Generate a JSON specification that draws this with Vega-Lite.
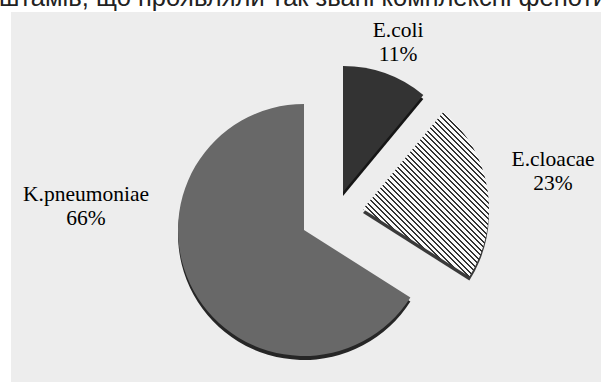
{
  "$schema": "https://vega.github.io/schema/vega-lite/v6.json",
  "autosize": "none",
  "width": 590,
  "height": 370,
  "padding": {"left": 11, "top": 12, "right": 0, "bottom": 0},
  "background": "#ffffff",
  "config": {"view": {"fill": "#ededed", "stroke": null}, "text": {"font": "Liberation Serif"}},
  "title": {
    "text": "штамів, що проявляли так звані комплексні фенотипи",
    "anchor": "start",
    "frame": "group",
    "orient": "top",
    "offset": -19,
    "baseline": "alphabetic",
    "dx": -12,
    "font": "Liberation Sans",
    "fontSize": 25.5,
    "fontWeight": "normal",
    "color": "#222222"
  },
  "data": {
    "values": [
      {"name": "E.coli", "share": 11},
      {"name": "E.cloacae", "share": 23},
      {"name": "K.pneumoniae", "share": 66}
    ]
  },
  "transform": [
    {"stack": "share", "groupby": [], "sort": [{"field": "share", "order": "ascending"}], "as": ["s0", "s1"]}
  ],
  "layer": [
    {
      "data": {"values": [{}]},
      "mark": {"type": "rect", "color": "#ededed"},
      "encoding": {}
    },
    {
      "transform": [{"filter": "datum.name === 'K.pneumoniae'"}],
      "mark": {"type": "arc", "outerRadius": 126, "xOffset": -2, "yOffset": 37, "fill": "#262626"},
      "encoding": {
        "theta": {"field": "s0", "type": "quantitative", "scale": {"domain": [0, 100]}},
        "theta2": {"field": "s1"}
      }
    },
    {
      "transform": [{"filter": "datum.name === 'K.pneumoniae'"}],
      "mark": {"type": "arc", "outerRadius": 126, "xOffset": -2, "yOffset": 33, "fill": "#686868"},
      "encoding": {
        "theta": {"field": "s0", "type": "quantitative", "scale": {"domain": [0, 100]}},
        "theta2": {"field": "s1"}
      }
    },
    {
      "transform": [{"filter": "datum.name === 'E.coli'"}],
      "mark": {"type": "arc", "outerRadius": 126, "xOffset": 37, "yOffset": -1, "fill": "#161616"},
      "encoding": {
        "theta": {"field": "s0", "type": "quantitative", "scale": {"domain": [0, 100]}},
        "theta2": {"field": "s1"}
      }
    },
    {
      "transform": [{"filter": "datum.name === 'E.coli'"}],
      "mark": {"type": "arc", "outerRadius": 126, "xOffset": 37, "yOffset": -5, "fill": "#333333"},
      "encoding": {
        "theta": {"field": "s0", "type": "quantitative", "scale": {"domain": [0, 100]}},
        "theta2": {"field": "s1"}
      }
    },
    {
      "transform": [{"filter": "datum.name === 'E.cloacae'"}],
      "mark": {"type": "arc", "outerRadius": 126, "xOffset": 57, "yOffset": 16, "fill": "#3a3a3a"},
      "encoding": {
        "theta": {"field": "s0", "type": "quantitative", "scale": {"domain": [0, 100]}},
        "theta2": {"field": "s1"}
      }
    },
    {
      "transform": [{"filter": "datum.name === 'E.cloacae'"}],
      "mark": {
        "type": "arc", "outerRadius": 126, "xOffset": 57, "yOffset": 12,
        "fill": {
          "gradient": "linear", "x1": 0, "y1": 1, "x2": 0.807, "y2": -0.054,
          "stops": [
            {"offset": 0.20, "color": "#333"}, {"offset": 0.208, "color": "#333"}, {"offset": 0.208, "color": "#fafafa"}, {"offset": 0.22, "color": "#fafafa"},
            {"offset": 0.22, "color": "#333"}, {"offset": 0.228, "color": "#333"}, {"offset": 0.228, "color": "#fafafa"}, {"offset": 0.24, "color": "#fafafa"},
            {"offset": 0.24, "color": "#333"}, {"offset": 0.248, "color": "#333"}, {"offset": 0.248, "color": "#fafafa"}, {"offset": 0.26, "color": "#fafafa"},
            {"offset": 0.26, "color": "#333"}, {"offset": 0.268, "color": "#333"}, {"offset": 0.268, "color": "#fafafa"}, {"offset": 0.28, "color": "#fafafa"},
            {"offset": 0.28, "color": "#333"}, {"offset": 0.288, "color": "#333"}, {"offset": 0.288, "color": "#fafafa"}, {"offset": 0.30, "color": "#fafafa"},
            {"offset": 0.30, "color": "#333"}, {"offset": 0.308, "color": "#333"}, {"offset": 0.308, "color": "#fafafa"}, {"offset": 0.32, "color": "#fafafa"},
            {"offset": 0.32, "color": "#333"}, {"offset": 0.328, "color": "#333"}, {"offset": 0.328, "color": "#fafafa"}, {"offset": 0.34, "color": "#fafafa"},
            {"offset": 0.34, "color": "#333"}, {"offset": 0.348, "color": "#333"}, {"offset": 0.348, "color": "#fafafa"}, {"offset": 0.36, "color": "#fafafa"},
            {"offset": 0.36, "color": "#333"}, {"offset": 0.368, "color": "#333"}, {"offset": 0.368, "color": "#fafafa"}, {"offset": 0.38, "color": "#fafafa"},
            {"offset": 0.38, "color": "#333"}, {"offset": 0.388, "color": "#333"}, {"offset": 0.388, "color": "#fafafa"}, {"offset": 0.40, "color": "#fafafa"},
            {"offset": 0.40, "color": "#333"}, {"offset": 0.408, "color": "#333"}, {"offset": 0.408, "color": "#fafafa"}, {"offset": 0.42, "color": "#fafafa"},
            {"offset": 0.42, "color": "#333"}, {"offset": 0.428, "color": "#333"}, {"offset": 0.428, "color": "#fafafa"}, {"offset": 0.44, "color": "#fafafa"},
            {"offset": 0.44, "color": "#333"}, {"offset": 0.448, "color": "#333"}, {"offset": 0.448, "color": "#fafafa"}, {"offset": 0.46, "color": "#fafafa"},
            {"offset": 0.46, "color": "#333"}, {"offset": 0.468, "color": "#333"}, {"offset": 0.468, "color": "#fafafa"}, {"offset": 0.48, "color": "#fafafa"},
            {"offset": 0.48, "color": "#333"}, {"offset": 0.488, "color": "#333"}, {"offset": 0.488, "color": "#fafafa"}, {"offset": 0.50, "color": "#fafafa"},
            {"offset": 0.50, "color": "#333"}, {"offset": 0.508, "color": "#333"}, {"offset": 0.508, "color": "#fafafa"}, {"offset": 0.52, "color": "#fafafa"},
            {"offset": 0.52, "color": "#333"}, {"offset": 0.528, "color": "#333"}, {"offset": 0.528, "color": "#fafafa"}, {"offset": 0.54, "color": "#fafafa"},
            {"offset": 0.54, "color": "#333"}, {"offset": 0.548, "color": "#333"}, {"offset": 0.548, "color": "#fafafa"}, {"offset": 0.56, "color": "#fafafa"},
            {"offset": 0.56, "color": "#333"}, {"offset": 0.568, "color": "#333"}, {"offset": 0.568, "color": "#fafafa"}, {"offset": 0.58, "color": "#fafafa"},
            {"offset": 0.58, "color": "#333"}, {"offset": 0.588, "color": "#333"}, {"offset": 0.588, "color": "#fafafa"}, {"offset": 0.60, "color": "#fafafa"},
            {"offset": 0.60, "color": "#333"}, {"offset": 0.608, "color": "#333"}, {"offset": 0.608, "color": "#fafafa"}, {"offset": 0.62, "color": "#fafafa"},
            {"offset": 0.62, "color": "#333"}, {"offset": 0.628, "color": "#333"}, {"offset": 0.628, "color": "#fafafa"}, {"offset": 0.64, "color": "#fafafa"},
            {"offset": 0.64, "color": "#333"}, {"offset": 0.648, "color": "#333"}, {"offset": 0.648, "color": "#fafafa"}, {"offset": 0.66, "color": "#fafafa"},
            {"offset": 0.66, "color": "#333"}, {"offset": 0.668, "color": "#333"}, {"offset": 0.668, "color": "#fafafa"}, {"offset": 0.68, "color": "#fafafa"},
            {"offset": 0.68, "color": "#333"}, {"offset": 0.688, "color": "#333"}, {"offset": 0.688, "color": "#fafafa"}, {"offset": 0.70, "color": "#fafafa"},
            {"offset": 0.70, "color": "#333"}, {"offset": 0.708, "color": "#333"}, {"offset": 0.708, "color": "#fafafa"}, {"offset": 0.72, "color": "#fafafa"},
            {"offset": 0.72, "color": "#333"}, {"offset": 0.728, "color": "#333"}, {"offset": 0.728, "color": "#fafafa"}, {"offset": 0.74, "color": "#fafafa"},
            {"offset": 0.74, "color": "#333"}, {"offset": 0.748, "color": "#333"}, {"offset": 0.748, "color": "#fafafa"}, {"offset": 0.76, "color": "#fafafa"},
            {"offset": 0.76, "color": "#333"}, {"offset": 0.768, "color": "#333"}, {"offset": 0.768, "color": "#fafafa"}, {"offset": 0.78, "color": "#fafafa"},
            {"offset": 0.78, "color": "#333"}, {"offset": 0.788, "color": "#333"}, {"offset": 0.788, "color": "#fafafa"}, {"offset": 0.80, "color": "#fafafa"},
            {"offset": 0.80, "color": "#333"}, {"offset": 0.808, "color": "#333"}, {"offset": 0.808, "color": "#fafafa"}, {"offset": 0.82, "color": "#fafafa"},
            {"offset": 0.82, "color": "#333"}, {"offset": 0.828, "color": "#333"}, {"offset": 0.828, "color": "#fafafa"}, {"offset": 0.84, "color": "#fafafa"},
            {"offset": 0.84, "color": "#333"}, {"offset": 0.848, "color": "#333"}, {"offset": 0.848, "color": "#fafafa"}, {"offset": 0.86, "color": "#fafafa"},
            {"offset": 0.86, "color": "#333"}, {"offset": 0.868, "color": "#333"}, {"offset": 0.868, "color": "#fafafa"}, {"offset": 0.88, "color": "#fafafa"},
            {"offset": 0.88, "color": "#333"}, {"offset": 0.888, "color": "#333"}, {"offset": 0.888, "color": "#fafafa"}, {"offset": 0.90, "color": "#fafafa"},
            {"offset": 0.90, "color": "#333"}, {"offset": 0.908, "color": "#333"}, {"offset": 0.908, "color": "#fafafa"}, {"offset": 0.92, "color": "#fafafa"},
            {"offset": 0.92, "color": "#333"}, {"offset": 0.928, "color": "#333"}, {"offset": 0.928, "color": "#fafafa"}, {"offset": 0.94, "color": "#fafafa"},
            {"offset": 0.94, "color": "#333"}, {"offset": 0.948, "color": "#333"}, {"offset": 0.948, "color": "#fafafa"}, {"offset": 0.96, "color": "#fafafa"}
          ]
        }
      },
      "encoding": {
        "theta": {"field": "s0", "type": "quantitative", "scale": {"domain": [0, 100]}},
        "theta2": {"field": "s1"}
      }
    },
    {
      "transform": [{"filter": "datum.name === 'E.coli'"}],
      "mark": {
        "type": "text", "radius": 189, "dx": 94, "dy": -10, "xOffset": -2, "yOffset": 33,
        "fontSize": 21.5, "lineHeight": 24,
        "align": "center", "baseline": "middle", "color": "#000000",
        "text": {"expr": "[datum.name, datum.share + '%']"}
      },
      "encoding": {"theta": {"field": "s0", "type": "quantitative", "scale": {"domain": [0, 100]}}}
    },
    {
      "transform": [{"filter": "datum.name === 'E.cloacae'"}],
      "mark": {
        "type": "text", "radius": 204, "dx": 119, "dy": 87, "xOffset": -2, "yOffset": 33,
        "fontSize": 21.5, "lineHeight": 24,
        "align": "center", "baseline": "middle", "color": "#000000",
        "text": {"expr": "[datum.name, datum.share + '%']"}
      },
      "encoding": {"theta": {"field": "s0", "type": "quantitative", "scale": {"domain": [0, 100]}}}
    },
    {
      "transform": [{"filter": "datum.name === 'K.pneumoniae'"}],
      "mark": {
        "type": "text", "radius": 0, "dx": -218, "dy": -35, "xOffset": -2, "yOffset": 33,
        "fontSize": 21.5, "lineHeight": 24,
        "align": "center", "baseline": "middle", "color": "#000000",
        "text": {"expr": "[datum.name, datum.share + '%']"}
      },
      "encoding": {"theta": {"field": "s0", "type": "quantitative", "scale": {"domain": [0, 100]}}}
    }
  ]
}
